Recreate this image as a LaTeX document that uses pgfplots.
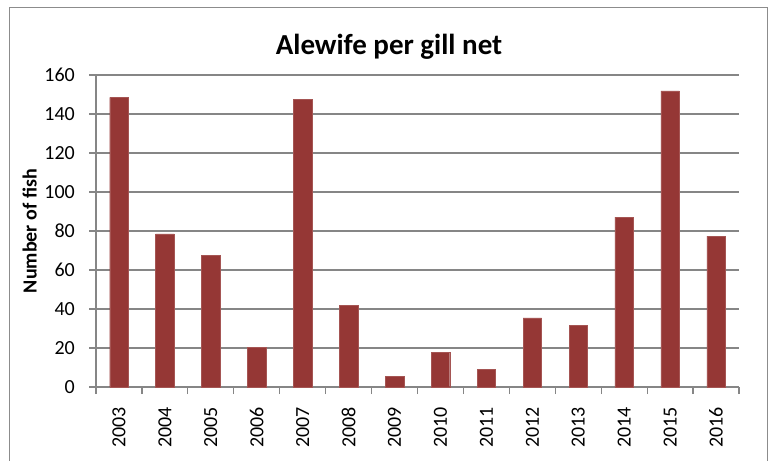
\documentclass[border=0pt]{standalone}
\usepackage{pgfplots}
\pgfplotsset{compat=1.18}
\usepackage{fontspec}
\setmainfont{Carlito}
\definecolor{barred}{HTML}{953735}
\definecolor{gridgray}{HTML}{868686}
\definecolor{framegray}{HTML}{8C8C8C}

\begin{document}
\begin{tikzpicture}[x=1pt,y=1pt]
\path[use as bounding box] (0,0) rectangle (770,460);
\draw[framegray, line width=1.4pt] (9.5,-5) -- (9.5,452.5) -- (767.5,452.5) -- (767.5,-5);
\begin{axis}[
    at={(96pt,73pt)}, anchor=south west,
    scale only axis, width=643pt, height=312pt,
    xmin=-0.5, xmax=13.5, ymin=0, ymax=160,
    ytick={0,20,...,160},
    ymajorgrids, grid style={gridgray, line width=1.2pt},
    axis x line*=bottom, axis y line*=left,
    axis line style={gridgray, line width=1.2pt, -},
    xtick={0,...,13},
    xticklabels={2003,2004,2005,2006,2007,2008,2009,2010,2011,2012,2013,2014,2015,2016},
    major x tick style={draw=none},
    minor xtick={-0.5,0.5,...,13.5},
    minor x tick style={gridgray, line width=1.2pt},
    y tick style={gridgray, line width=1.2pt},
    tick align=outside,
    major tick length=7pt, minor tick length=7pt,
    /pgf/number format/assume math mode=true,
    ticklabel style={font=\fontsize{20}{20}\selectfont},
    xticklabel style={rotate=90, anchor=east, inner sep=0pt},
    xticklabel shift=13pt,
    yticklabel style={inner sep=0pt, xshift=-14pt},
    ylabel={\textbf{Number of fish}},
    ylabel style={at={(axis description cs:-0.103,0.5)}, anchor=center,
                  font=\fontsize{20}{20}\selectfont},
]
\addplot[ybar, bar width=18.5pt, fill=barred, draw=barred!85!white] coordinates {
    (0, 148.5)
    (1, 78.5)
    (2, 67.6)
    (3, 20.3)
    (4, 147.6)
    (5, 42.0)
    (6, 5.6)
    (7, 17.8)
    (8, 9.1)
    (9, 35.5)
    (10, 31.6)
    (11, 87.1)
    (12, 151.9)
    (13, 77.4)
};
\end{axis}
\node[anchor=base, font=\bfseries\fontsize{29}{29}\selectfont] at (389,405) {Alewife per gill net};
\end{tikzpicture}
\end{document}
